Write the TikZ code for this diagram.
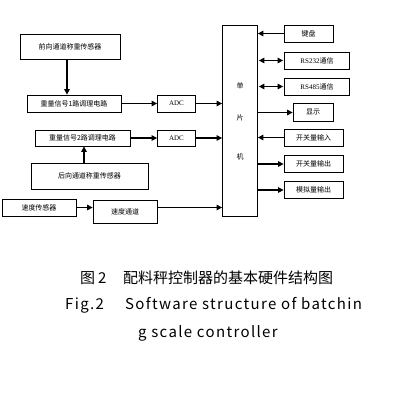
\documentclass[tikz,border=0pt]{standalone}
\usepackage{fontspec}
\setmainfont{Liberation Serif}
\newfontfamily\cjk{Noto Sans CJK SC}
\newfontfamily\capfont[LetterSpace=9]{Noto Sans CJK SC}
\newfontfamily\capcjk{Noto Sans CJK SC}
\usetikzlibrary{arrows.meta}
\tikzset{
  box/.style={draw, line width=0.8pt, inner sep=0pt, font=\fontsize{7}{8}\selectfont\cjk},
  lbl/.style={inner sep=0pt, font=\fontsize{7}{8}\selectfont\cjk},
  arr/.style={line width=1.2pt, -{Triangle[length=5.5pt,width=5.5pt]}},
  darr/.style={line width=1.2pt, {Triangle[length=5.5pt,width=5.5pt]}-{Triangle[length=5.5pt,width=5.5pt]}},
  captxt/.style={inner sep=0pt, anchor=base west}
}
\begin{document}
\begin{tikzpicture}[x=1pt,y=-1pt]
\useasboundingbox (0,0) rectangle (405,400);
% left column
\node[box, minimum width=100pt, minimum height=25pt] (f1) at (70,46.5) {前向通道称重传感器};
\node[box, minimum width=94pt, minimum height=17pt] (c1) at (74,103.5) {重量信号1路调理电路};
\node[box, minimum width=38pt, minimum height=17pt] (adc1) at (176.5,103.5) {\rmfamily ADC};
\node[box, minimum width=95pt, minimum height=16pt] (c2) at (82.5,138) {重量信号2路调理电路};
\node[box, minimum width=38pt, minimum height=16pt] (adc2) at (176.5,138) {\rmfamily ADC};
\node[box, minimum width=117pt, minimum height=26pt] (b2) at (89.5,176) {后向通道称重传感器};
\node[box, minimum width=74pt, minimum height=17pt] (sp) at (39,207.5) {速度传感器};
\node[box, minimum width=64pt, minimum height=23pt] (ch) at (125,211.5) {速度通道};
% MCU
\node[box, minimum width=35pt, minimum height=191pt] (mcu) at (240,120.5) {};
\node[lbl] (mcuA) at (240,86) {单};
\node[lbl] (mcuB) at (240,118) {片};
\node[lbl] (mcuC) at (240,157) {机};
% right column
\node[box, minimum width=49pt, minimum height=17pt] (kb) at (308.5,33.5) {键盘};
\node[box, minimum width=65pt, minimum height=17pt] (r232) at (317,60.5) {\rmfamily RS232\cjk 通信};
\node[box, minimum width=65pt, minimum height=17pt] (r485) at (317,86.5) {\rmfamily RS485\cjk 通信};
\node[box, minimum width=40pt, minimum height=18pt] (disp) at (313,112.5) {显示};
\node[box, minimum width=59pt, minimum height=17pt] (din) at (313.5,137.5) {开关量输入};
\node[box, minimum width=59pt, minimum height=17pt] (dout) at (313.5,164) {开关量输出};
\node[box, minimum width=59pt, minimum height=17pt] (aout) at (313.5,190) {模拟量输出};
% connectors left
\draw[arr] ([xshift=-3pt]f1.south) -- ([xshift=-3pt]f1.south |- c1.north);
\draw[arr] (c1.east) -- (adc1.west);
\draw[arr] (adc1.east) -- (adc1.east -| mcu.west);
\draw[arr] ([xshift=1.5pt]c2.south |- b2.north) -- ([xshift=1.5pt]c2.south);
\draw[arr] (c2.east) -- (adc2.west);
\draw[arr] (adc2.east) -- (adc2.east -| mcu.west);
\draw[arr] (sp.east) -- (sp.east -| ch.west);
\draw[arr] (sp.east -| ch.east) -- (sp.east -| mcu.west);
% connectors right
\draw[arr] (kb.west) -- (kb.west -| mcu.east);
\draw[darr] ([xshift=1pt]r232.west -| mcu.east) -- ([xshift=-1pt]r232.west);
\draw[darr] ([xshift=1pt]r485.west -| mcu.east) -- ([xshift=-1pt]r485.west);
\draw[arr] (disp.west -| mcu.east) -- (disp.west);
\draw[arr] (din.west) -- (din.west -| mcu.east);
\draw[arr] (dout.west -| mcu.east) -- (dout.west);
\draw[arr] (aout.west -| mcu.east) -- (aout.west);
% caption
\node[captxt, font=\fontsize{15}{16}\selectfont\capcjk] (t1a) at (80,283) {图\hspace{3pt}2};
\node[captxt, font=\fontsize{15}{16}\selectfont\capcjk] (t1b) at (123,283) {配料秤控制器的基本硬件结构图};
\node[captxt, font=\fontsize{15}{16}\selectfont\capfont] (t2a) at (65,309) {Fig.2};
\node[captxt, font=\fontsize{15}{16}\selectfont\capfont] (t2b) at (125,309) {Software structure of batchin};
\node[captxt, font=\fontsize{15}{16}\selectfont\capfont] (t3) at (138,337) {g scale controller};
\end{tikzpicture}
\end{document}
